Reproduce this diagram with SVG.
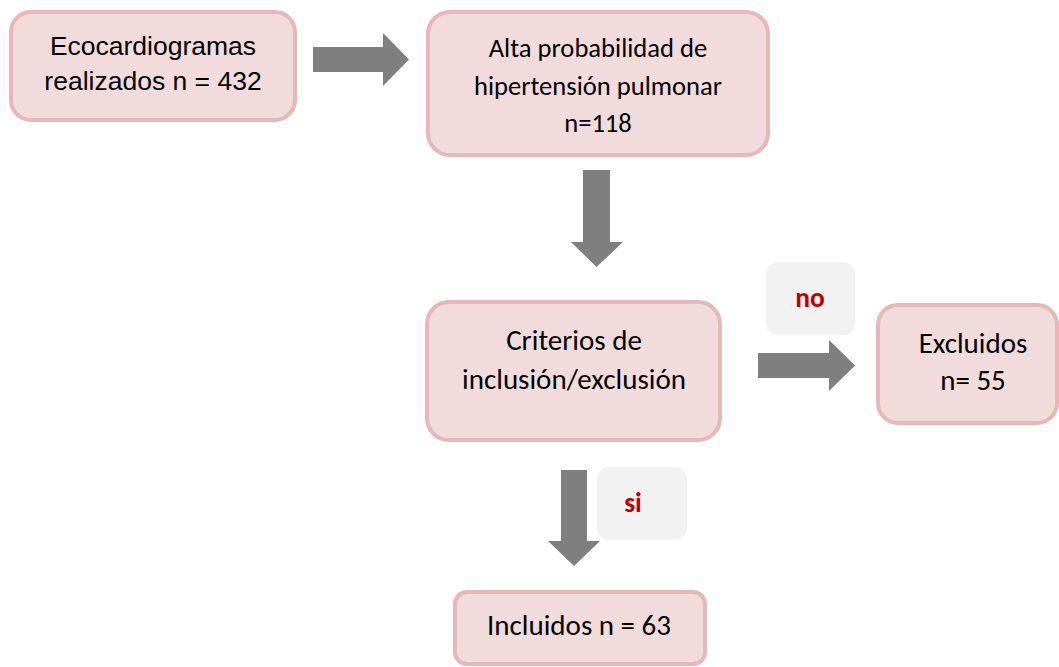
<svg xmlns="http://www.w3.org/2000/svg" width="1059" height="667" viewBox="0 0 1059 667">
<style>
.box{fill:#f2dcdb;stroke:#e6b8b7;stroke-width:4}
.lbl{fill:#f2f2f2}
.arr{fill:#7f7f7f}
.ar{font-family:"Liberation Sans",Arial,sans-serif;font-size:26.5px;fill:#000;text-anchor:middle}
.ca{font-family:Carlito,Lato,"Open Sans",sans-serif;font-size:29px;fill:#000;text-anchor:middle}
.sm{font-size:26.6px}
.red{font-family:Carlito,Lato,"Open Sans",sans-serif;font-size:27.5px;font-weight:bold;fill:#c00000;text-anchor:middle}
</style>
<rect width="1059" height="667" fill="#fff"/>
<g id="connectors">
<polygon class="arr" points="313,47 383,47 383,33 409,59.5 383,86 383,72 313,72"/>
<polygon class="arr" points="583,170 610,170 610,242 623,242 596.5,267 571,242 583,242"/>
<polygon class="arr" points="758,353 829,353 829,340 855,365.5 829,391 829,378 758,378"/>
<polygon class="arr" points="561,470 587,470 587,541 600,541 574,566 548,541 561,541"/>
</g>
<g id="node-eco">
<rect class="box" x="11" y="12" width="284" height="108" rx="20"/>
<text class="ar" x="153" y="55">Ecocardiogramas</text>
<text class="ar" x="153" y="90">realizados n = 432</text>
</g>
<g id="node-alta">
<rect class="box" x="428" y="12" width="340" height="143" rx="22"/>
<text class="ca sm" x="598" y="57">Alta probabilidad de</text>
<text class="ca sm" x="598" y="95">hipertensión pulmonar</text>
<text class="ca sm" x="598" y="132">n=118</text>
</g>
<g id="label-no">
<rect class="lbl" x="766" y="262" width="89" height="73" rx="12"/>
<text class="red" x="810" y="307">no</text>
</g>
<g id="node-criterios">
<rect class="box" x="427" y="302" width="293" height="138" rx="22"/>
<text class="ca" x="574" y="350">Criterios de</text>
<text class="ca" x="574" y="389">inclusión/exclusión</text>
</g>
<g id="node-excluidos">
<rect class="box" x="878" y="305" width="179" height="118" rx="20"/>
<text class="ca" x="973" y="353">Excluidos</text>
<text class="ca" x="973" y="390">n= 55</text>
</g>
<g id="label-si">
<rect class="lbl" x="597" y="467" width="90" height="73" rx="12"/>
<text class="red" x="633" y="512">si</text>
</g>
<g id="node-incluidos">
<rect class="box" x="455" y="592" width="250" height="72" rx="12"/>
<text class="ca" x="579" y="635">Incluidos n = 63</text>
</g>
</svg>
